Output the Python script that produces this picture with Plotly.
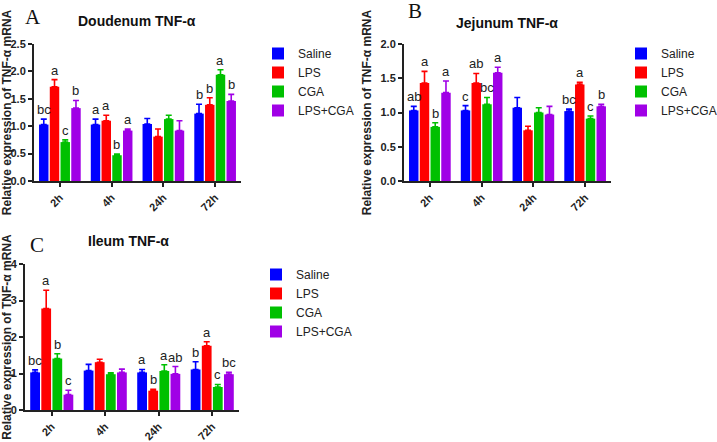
import plotly.graph_objects as go

# ---------------- data ----------------
categories = ["2h", "4h", "24h", "72h"]
series = ["Saline", "LPS", "CGA", "LPS+CGA"]
colors = ["#0000FF", "#FF0000", "#00C000", "#A000E6"]

# Panel A: Doudenum
duo_saline = [1.03, 1.03, 1.04, 1.23]
duo_lps = [1.72, 1.10, 0.81, 1.39]
duo_cga = [0.71, 0.47, 1.13, 1.94]
duo_lpscga = [1.33, 0.92, 0.92, 1.46]
duo_saline_sem = [0.10, 0.10, 0.10, 0.17]
duo_lps_sem = [0.13, 0.10, 0.14, 0.13]
duo_cga_sem = [0.04, 0.02, 0.07, 0.09]
duo_lpscga_sem = [0.14, 0.03, 0.18, 0.12]
duo_sig_saline = ["bc", "a", "", "b"]
duo_sig_lps = ["a", "a", "", "b"]
duo_sig_cga = ["c", "b", "", "a"]
duo_sig_lpscga = ["b", "a", "", "b"]

# Panel B: Jejunum
jej_saline = [1.03, 1.03, 1.07, 1.02]
jej_lps = [1.43, 1.43, 0.74, 1.41]
jej_cga = [0.79, 1.12, 1.00, 0.91]
jej_lpscga = [1.29, 1.58, 0.97, 1.09]
jej_saline_sem = [0.06, 0.07, 0.15, 0.03]
jej_lps_sem = [0.17, 0.14, 0.06, 0.03]
jej_cga_sem = [0.06, 0.10, 0.07, 0.04]
jej_lpscga_sem = [0.17, 0.08, 0.12, 0.03]
jej_sig_saline = ["ab", "c", "", "bc"]
jej_sig_lps = ["a", "ab", "", "a"]
jej_sig_cga = ["b", "bc", "", "c"]
jej_sig_lpscga = ["a", "a", "", "b"]

# Panel C: Ileum
ile_saline = [1.03, 1.08, 1.03, 1.11]
ile_lps = [2.78, 1.31, 0.53, 1.76]
ile_cga = [1.41, 0.98, 1.07, 0.63]
ile_lpscga = [0.42, 1.03, 0.99, 0.98]
ile_saline_sem = [0.07, 0.17, 0.08, 0.21]
ile_lps_sem = [0.50, 0.08, 0.04, 0.11]
ile_cga_sem = [0.13, 0.04, 0.17, 0.07]
ile_lpscga_sem = [0.12, 0.09, 0.20, 0.05]
ile_sig_saline = ["bc", "", "a", "b"]
ile_sig_lps = ["a", "", "b", "a"]
ile_sig_cga = ["b", "", "a", "c"]
ile_sig_lpscga = ["c", "", "ab", "bc"]

y_title = "Relative expression of TNF-α mRNA"

# ---------------- layout geometry ----------------
W, H = 717, 442
FONT = "Arial, Liberation Sans, sans-serif"
BARGAP = 0.17
GROUPGAP = 0.12

panels = [
    dict(title="Doudenum TNF-α", letter="A",
         means=[duo_saline, duo_lps, duo_cga, duo_lpscga],
         sems=[duo_saline_sem, duo_lps_sem, duo_cga_sem, duo_lpscga_sem],
         sigs=[duo_sig_saline, duo_sig_lps, duo_sig_cga, duo_sig_lpscga],
         xpx=(34, 241), ypx=(44, 181), yrange=[0, 2.5], dtick=0.5, fmt=".1f",
         title_xy=(137, 21), letter_xy=(33, 17), legend_xy=(258, 39),
         legend="legend"),
    dict(title="Jejunum TNF-α", letter="B",
         means=[jej_saline, jej_lps, jej_cga, jej_lpscga],
         sems=[jej_saline_sem, jej_lps_sem, jej_cga_sem, jej_lpscga_sem],
         sigs=[jej_sig_saline, jej_sig_lps, jej_sig_cga, jej_sig_lpscga],
         xpx=(404, 611), ypx=(44, 181), yrange=[0, 2.0], dtick=0.5, fmt=".1f",
         title_xy=(507, 23), letter_xy=(415, 11), legend_xy=(621, 39),
         legend="legend2"),
    dict(title="Ileum TNF-α", letter="C",
         means=[ile_saline, ile_lps, ile_cga, ile_lpscga],
         sems=[ile_saline_sem, ile_lps_sem, ile_cga_sem, ile_lpscga_sem],
         sigs=[ile_sig_saline, ile_sig_lps, ile_sig_cga, ile_sig_lpscga],
         xpx=(25, 239), ypx=(264, 410), yrange=[0, 4], dtick=1, fmt="d",
         title_xy=(128, 241), letter_xy=(37, 245), legend_xy=(256, 260),
         legend="legend3"),
]

fig = go.Figure()
annotations = []
layout_axes = {}

for p_i, p in enumerate(panels):
    suffix = "" if p_i == 0 else str(p_i + 1)
    xref, yref = "x" + suffix, "y" + suffix
    for s_i, name in enumerate(series):
        fig.add_trace(go.Bar(
            x=categories, y=p["means"][s_i], name=name,
            marker=dict(color=colors[s_i], line=dict(width=0)),
            error_y=dict(type="data", symmetric=False, array=p["sems"][s_i],
                         arrayminus=[0] * len(categories),
                         color=colors[s_i], thickness=1.6, width=3),
            xaxis=xref, yaxis=yref, legend=p["legend"],
            showlegend=True,
        ))
    x0, x1 = p["xpx"]
    yt, yb = p["ypx"]
    axis_common = dict(showline=True, linecolor="#222", linewidth=2,
                       ticks="outside", ticklen=4, tickwidth=1.5,
                       tickcolor="#222", showgrid=False, zeroline=False,
                       automargin=False,
                       tickfont=dict(family=FONT, size=11, color="#222",
                                     weight="bold"))
    layout_axes["xaxis" + suffix] = dict(
        axis_common, domain=[x0 / W, x1 / W], anchor=yref,
        type="category", tickangle=-45)
    layout_axes["yaxis" + suffix] = dict(
        axis_common, domain=[1 - yb / H, 1 - yt / H], anchor=xref,
        range=p["yrange"], dtick=p["dtick"], tickformat=p["fmt"],
        title=dict(text=y_title, standoff=6,
                   font=dict(family=FONT, size=12, color="#222",
                             weight="bold")))
    # significance letters above each error bar
    cat_w = (x1 - x0) / len(categories)
    slot = cat_w * (1 - BARGAP) / len(series)
    for s_i in range(len(series)):
        for c_i, cat in enumerate(categories):
            lab = p["sigs"][s_i][c_i]
            if not lab:
                continue
            annotations.append(dict(
                x=cat, y=p["means"][s_i][c_i] + p["sems"][s_i][c_i],
                xref=xref, yref=yref, text=lab, showarrow=False,
                xshift=(s_i - 1.5) * slot, yanchor="bottom", yshift=0,
                font=dict(family=FONT, size=13, color="#222")))
    # panel title
    tx, ty = p["title_xy"]
    annotations.append(dict(x=tx / W, y=1 - ty / H, xref="paper", yref="paper",
                            text=p["title"], showarrow=False,
                            xanchor="center", yanchor="middle",
                            font=dict(family=FONT, size=14, color="#111",
                                      weight="bold")))
    # panel letter
    lx, ly = p["letter_xy"]
    annotations.append(dict(x=lx / W, y=1 - ly / H, xref="paper", yref="paper",
                            text=p["letter"], showarrow=False,
                            xanchor="center", yanchor="middle",
                            font=dict(family="Liberation Serif, Times New Roman, serif",
                                      size=21, color="#111")))

legend_common = dict(font=dict(family=FONT, size=12, color="#222"),
                     bgcolor="rgba(0,0,0,0)", xanchor="left", yanchor="top",
                     tracegroupgap=0)
legends = {}
for p_i, p in enumerate(panels):
    key = "legend" if p_i == 0 else "legend" + str(p_i + 1)
    lx, ly = p["legend_xy"]
    legends[key] = dict(legend_common, x=lx / W, y=1 - ly / H)

fig.update_layout(
    width=W, height=H,
    margin=dict(l=0, r=0, t=0, b=0, autoexpand=False),
    paper_bgcolor="white", plot_bgcolor="white",
    barmode="group", bargap=BARGAP, bargroupgap=GROUPGAP,
    font=dict(family=FONT, color="#222"),
    annotations=annotations,
    **layout_axes, **legends,
)

fig.write_html("out.html",
               config={"displayModeBar": False},
               post_script="document.body.style.margin='0';"
                           "document.body.style.overflow='hidden';")
